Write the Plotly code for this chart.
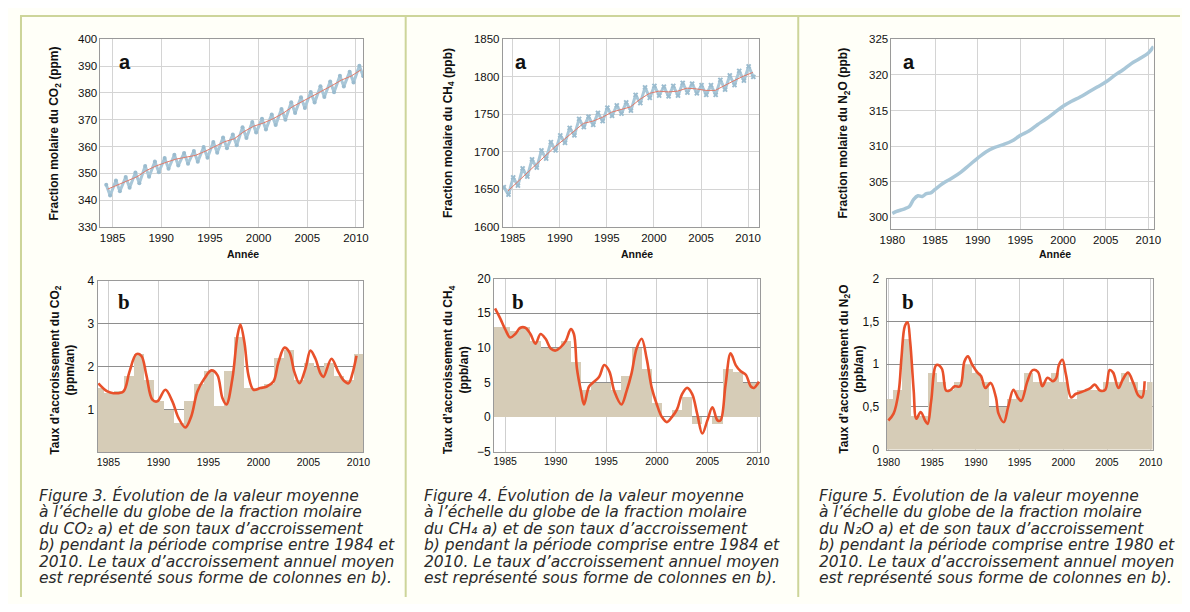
import plotly.graph_objects as go

# The page body has an 8px default margin: the figure is offset by OFF px.
OFF = 8
W, H = 1190 - OFF, 612 - 2 * OFF

# ---------------- DATA ----------------
co2_years = [1984, 1985, 1986, 1987, 1988, 1989, 1990, 1991, 1992, 1993, 1994, 1995, 1996, 1997,
             1998, 1999, 2000, 2001, 2002, 2003, 2004, 2005, 2006, 2007, 2008, 2009, 2010]
co2_trend = [344.1, 345.7, 347.0, 348.7, 351.1, 352.8, 354.1, 355.3, 356.0, 356.7, 358.2, 360.1, 361.8, 362.9,
             365.6, 367.6, 368.8, 370.4, 372.4, 374.9, 376.8, 378.8, 380.9, 382.7, 384.8, 386.3, 388.6]
co2_peak = [345.7, 347.3, 348.6, 350.3, 352.7, 354.4, 355.7, 356.9, 357.6, 358.3, 359.8, 361.7, 363.4, 364.5,
            367.2, 369.2, 370.4, 372.0, 374.0, 376.5, 378.4, 380.4, 382.5, 384.3, 386.4, 387.9, 390.2]
co2_trough = [341.7, 343.3, 344.6, 346.3, 348.7, 350.4, 351.7, 352.9, 353.6, 354.3, 355.8, 357.7, 359.4, 360.5,
              363.2, 365.2, 366.4, 368.0, 370.0, 372.5, 374.4, 376.4, 378.5, 380.3, 382.4, 383.9, 386.2]

ch4_years = [1984, 1985, 1986, 1987, 1988, 1989, 1990, 1991, 1992, 1993, 1994, 1995, 1996, 1997,
             1998, 1999, 2000, 2001, 2002, 2003, 2004, 2005, 2006, 2007, 2008, 2009, 2010]
ch4_trend = [1648, 1660, 1672, 1684, 1696, 1707, 1717, 1727, 1738, 1741, 1746, 1753, 1756, 1760,
             1770, 1778, 1781, 1780, 1781, 1785, 1784, 1782, 1782, 1789, 1795, 1801, 1806]
ch4_peak = [1653, 1666, 1678, 1690, 1702, 1713, 1722, 1732, 1744, 1747, 1752, 1759, 1762, 1766,
            1776, 1786, 1788, 1787, 1788, 1792, 1791, 1789, 1789, 1796, 1802, 1808, 1814]
ch4_trough = [1643, 1655, 1667, 1679, 1691, 1702, 1712, 1722, 1733, 1736, 1741, 1748, 1751, 1755,
              1765, 1772, 1775, 1774, 1775, 1779, 1778, 1776, 1776, 1783, 1789, 1795, 1800]

n2o_x = [1980.0, 1980.5, 1981.0, 1981.5, 1982.0, 1982.5, 1983.0, 1983.5, 1984.0, 1984.5, 1985.0, 1986.0,
         1987.0, 1988.0, 1989.0, 1990.0, 1991.0, 1992.0, 1993.0, 1994.0, 1995.0, 1996.0, 1997.0, 1998.0,
         1999.0, 2000.0, 2001.0, 2002.0, 2003.0, 2004.0, 2005.0, 2006.0, 2007.0, 2008.0, 2009.0, 2010.0, 2010.6]
n2o_y = [300.5, 300.8, 301.0, 301.2, 301.5, 302.5, 303.0, 302.9, 303.3, 303.4, 303.9, 304.8,
         305.5, 306.3, 307.3, 308.3, 309.2, 309.8, 310.2, 310.7, 311.5, 312.1, 313.0, 313.8,
         314.7, 315.6, 316.3, 316.9, 317.6, 318.3, 319.0, 319.9, 320.7, 321.6, 322.3, 323.1, 324.0]

# growth rates (curves)
co2_rate_x = [1984.0, 1984.9, 1985.5, 1986.5, 1987.1, 1987.8, 1988.3, 1988.8, 1989.4, 1989.9, 1990.7, 1991.4,
              1992.0, 1992.7, 1993.3, 1993.9, 1994.6, 1995.3, 1995.9, 1996.4, 1996.8, 1997.4, 1997.9, 1998.2,
              1998.6, 1999.0, 1999.5, 2000.2, 2000.8, 2001.5, 2002.0, 2002.6, 2003.1, 2003.6, 2004.1, 2004.7,
              2005.2, 2005.7, 2006.2, 2006.5, 2007.3, 2008.0, 2008.5, 2009.0, 2009.4, 2009.8]
co2_rate_y = [1.61, 1.42, 1.38, 1.42, 1.87, 2.29, 2.25, 1.80, 1.23, 1.19, 1.46, 1.19,
              0.81, 0.58, 0.85, 1.42, 1.72, 1.91, 1.80, 1.27, 1.12, 1.72, 2.71, 2.98,
              2.56, 1.80, 1.46, 1.50, 1.53, 1.65, 2.10, 2.44, 2.33, 1.87, 1.61, 1.95,
              2.37, 2.18, 1.84, 1.76, 2.18, 1.87, 1.68, 1.61, 1.84, 2.25]
co2_bar = [1.5, 1.4, 1.45, 1.8, 2.3, 1.7, 1.2, 1.0, 0.7, 1.2, 1.6, 1.9, 1.1, 1.9,
           2.7, 1.5, 1.5, 1.6, 2.2, 2.4, 1.7, 2.1, 2.0, 2.1, 1.8, 1.7, 2.3]

ch4_rate_x = [1984.0, 1984.5, 1985.0, 1985.5, 1986.0, 1986.5, 1987.0, 1987.5, 1988.0, 1988.5, 1989.0, 1989.5,
              1990.0, 1990.5, 1991.0, 1991.5, 1991.8, 1992.1, 1992.5, 1992.8, 1993.3, 1993.8, 1994.3, 1994.8,
              1995.3, 1995.8, 1996.5, 1997.0, 1997.5, 1998.0, 1998.5, 1999.0, 1999.5, 2000.0, 2000.5, 2001.0,
              2001.5, 2002.0, 2002.5, 2003.0, 2003.5, 2004.0, 2004.5, 2005.0, 2005.5, 2006.0, 2006.3, 2006.8,
              2007.3, 2007.8, 2008.3, 2008.8, 2009.3, 2009.6, 2010.1]
ch4_rate_y = [15.7, 14.3, 12.7, 11.5, 12.0, 12.9, 12.9, 12.0, 10.6, 12.0, 11.3, 9.9,
              9.6, 10.1, 11.0, 12.7, 12.0, 7.0, 3.7, 1.8, 4.4, 5.1, 5.8, 7.5,
              6.6, 3.7, 1.8, 3.7, 6.3, 9.9, 11.3, 8.4, 4.2, 1.8, 0.0, -0.75,
              0.0, 1.1, 3.3, 4.2, 3.3, 0.4, -2.4, -0.5, 1.4, -0.5, -0.5, 4.7,
              9.2, 7.5, 6.6, 6.1, 4.4, 4.2, 5.1]
ch4_bar = [13.0, 13.0, 12.5, 13.0, 11.0, 10.0, 10.0, 11.0, 8.0, 4.0, 5.0, 5.0, 4.0, 6.0,
           10.0, 7.0, 2.0, 0.0, 1.0, 3.0, -1.0, 0.0, -1.0, 7.0, 6.5, 5.0, 5.0]

n2o_rate_x = [1980.0, 1980.6, 1981.2, 1981.5, 1981.9, 1982.2, 1982.5, 1982.9, 1983.2, 1983.7, 1984.2, 1984.5,
              1984.9, 1985.5, 1986.1, 1986.6, 1987.0, 1987.6, 1988.2, 1988.7, 1989.1, 1989.6, 1990.2, 1990.6,
              1991.1, 1991.7, 1992.3, 1992.6, 1993.2, 1993.7, 1994.3, 1994.8, 1995.2, 1995.9, 1996.5, 1997.1,
              1997.6, 1998.2, 1998.8, 1999.2, 1999.5, 1999.9, 2000.3, 2000.9, 2001.4, 2002.0, 2002.5, 2003.1,
              2003.6, 2004.2, 2004.8, 2005.3, 2005.7, 2006.3, 2006.8, 2007.4, 2008.0, 2008.6, 2009.0, 2009.3]
n2o_rate_y = [0.34, 0.42, 0.69, 1.07, 1.45, 1.49, 1.26, 0.69, 0.36, 0.44, 0.34, 0.30,
              0.57, 0.99, 0.95, 0.69, 0.69, 0.74, 0.74, 1.03, 1.09, 0.99, 0.90, 0.86,
              0.72, 0.78, 0.61, 0.42, 0.32, 0.50, 0.70, 0.61, 0.57, 0.80, 0.93, 0.91,
              0.74, 0.84, 0.80, 0.84, 0.99, 1.05, 0.88, 0.61, 0.65, 0.67, 0.69, 0.72,
              0.76, 0.69, 0.70, 0.93, 0.90, 0.72, 0.82, 0.90, 0.78, 0.63, 0.61, 0.80]
n2o_years = [1980, 1981, 1982, 1983, 1984, 1985, 1986, 1987, 1988, 1989, 1990, 1991, 1992, 1993, 1994, 1995,
             1996, 1997, 1998, 1999, 2000, 2001, 2002, 2003, 2004, 2005, 2006, 2007, 2008, 2009, 2010]
n2o_bar = [0.6, 0.7, 1.3, 0.4, 0.4, 0.9, 0.8, 0.7, 0.8, 1.0, 0.9, 0.8, 0.5, 0.5, 0.6, 0.7,
           0.9, 0.8, 0.8, 0.9, 0.8, 0.6, 0.7, 0.7, 0.7, 0.8, 0.8, 0.9, 0.8, 0.7, 0.8]

ticks_5y_85 = [1985, 1990, 1995, 2000, 2005, 2010]
ticks_5y_80 = [1980, 1985, 1990, 1995, 2000, 2005, 2010]

gases = ["CO<sub>2</sub>", "CH<sub>4</sub>", "N<sub>2</sub>O"]
gases_caption = ["CO₂", "CH₄", "N₂O"]
fig_numbers = ["Figure 3", "Figure 4", "Figure 5"]
start_years = ["1984", "1984", "1980"]
units_a = ["ppm", "ppb", "ppb"]
units_b = ["ppm/an", "ppb/an", "ppb/an"]

# ---------------- helpers ----------------
def fx(p):
    return (p - OFF) / W

def fy(p):
    return 1 - (p - OFF) / H

def seasonal(years, peaks, troughs, dp, dt):
    xs, ys = [], []
    for yr, p, t in zip(years, peaks, troughs):
        xs += [yr + dp, yr + dt]
        ys += [p, t]
    return xs, ys

BLUE = "#a9c7d8"
RED_T = "#e07a6a"
ORANGE = "#e8512b"
TAN = "#d6ccb7"
FONT = "Liberation Sans"

fig = go.Figure()

# top panels
cx, cy = seasonal(co2_years, co2_peak, co2_trough, 0.35, 0.75)
fig.add_trace(go.Scatter(x=cx, y=cy, mode="lines+markers", line=dict(color=BLUE, width=3),
                         marker=dict(size=4, color="#9bbccf"), xaxis="x", yaxis="y", showlegend=False))
fig.add_trace(go.Scatter(x=[y + 0.5 for y in co2_years], y=co2_trend, mode="lines",
                         line=dict(color=RED_T, width=1), xaxis="x", yaxis="y", showlegend=False))

hx, hy = seasonal(ch4_years, ch4_peak, ch4_trough, 0.05, 0.55)
fig.add_trace(go.Scatter(x=hx, y=hy, mode="lines+markers", line=dict(color=BLUE, width=3),
                         marker=dict(size=4, color="#9bbccf", symbol="x-thin", line=dict(width=2, color="#9bbccf")),
                         xaxis="x2", yaxis="y2", showlegend=False))
fig.add_trace(go.Scatter(x=[y + 0.5 for y in ch4_years], y=ch4_trend, mode="lines",
                         line=dict(color=RED_T, width=1), xaxis="x2", yaxis="y2", showlegend=False))

fig.add_trace(go.Scatter(x=n2o_x, y=n2o_y, mode="lines", line=dict(color=BLUE, width=3.5, shape="spline"),
                         xaxis="x3", yaxis="y3", showlegend=False))

# bottom panels
fig.add_trace(go.Bar(x=co2_years, y=co2_bar, width=1, marker=dict(color=TAN, line=dict(width=0)),
                     xaxis="x4", yaxis="y4", showlegend=False))
fig.add_trace(go.Scatter(x=co2_rate_x, y=co2_rate_y, mode="lines", line=dict(color=ORANGE, width=2.6, shape="spline"),
                         xaxis="x4", yaxis="y4", showlegend=False))
fig.add_trace(go.Bar(x=ch4_years, y=ch4_bar, width=1, marker=dict(color=TAN, line=dict(width=0)),
                     xaxis="x5", yaxis="y5", showlegend=False))
fig.add_trace(go.Scatter(x=ch4_rate_x, y=ch4_rate_y, mode="lines", line=dict(color=ORANGE, width=2.6, shape="spline"),
                         xaxis="x5", yaxis="y5", showlegend=False))
fig.add_trace(go.Bar(x=n2o_years, y=n2o_bar, width=1, marker=dict(color=TAN, line=dict(width=0)),
                     xaxis="x6", yaxis="y6", showlegend=False))
fig.add_trace(go.Scatter(x=n2o_rate_x, y=n2o_rate_y, mode="lines", line=dict(color=ORANGE, width=2.6, shape="spline"),
                         xaxis="x6", yaxis="y6", showlegend=False))

# axes
def xax(dom, rng, ticks, anchor, size, grid, standoff=0):
    return dict(domain=[fx(dom[0]), fx(dom[1])], range=rng, tickvals=ticks, anchor=anchor,
                showgrid=True, gridcolor=grid, gridwidth=1, showline=True, linecolor="#9a9a9a",
                mirror=True, ticks="", zeroline=False, ticklabelstandoff=standoff,
                tickfont=dict(family=FONT, size=size, color="#111111"))

def yax(dom, rng, ticks, anchor, size, grid, text=None, standoff=0):
    d = dict(domain=[fy(dom[1]), fy(dom[0])], range=rng, tickvals=ticks, anchor=anchor,
             showgrid=True, gridcolor=grid, gridwidth=1, showline=True, linecolor="#9a9a9a",
             mirror=True, ticks="", zeroline=False, ticklabelstandoff=standoff,
             tickfont=dict(family=FONT, size=size, color="#111111"))
    if text is not None:
        d["ticktext"] = text
    return d

layout = dict(
    width=W, height=H, margin=dict(l=0, r=0, t=0, b=0),
    paper_bgcolor="#fffff8", plot_bgcolor="#ffffff", bargap=0,
    xaxis=xax((90, 358), [1983.76, 2010.77], ticks_5y_85, "y", 11.5, "#d4d4d4"),
    yaxis=yax((33, 225), [330, 400], [330, 340, 350, 360, 370, 380, 390, 400], "x", 11.5, "#d4d4d4"),
    xaxis2=xax((500, 761), [1983.95, 2011.15], ticks_5y_85, "y2", 11.5, "#d4d4d4"),
    yaxis2=yax((33, 225), [1600, 1850], [1600, 1650, 1700, 1750, 1800, 1850], "x2", 11.5, "#d4d4d4"),
    xaxis3=xax((896, 1163), [1979.9, 2010.6], ticks_5y_80, "y3", 11.5, "#d4d4d4"),
    yaxis3=yax((33, 227), [298.35, 325], [300, 305, 310, 315, 320, 325], "x3", 11.5, "#d4d4d4"),
    xaxis4=xax((87, 358), [1983.92, 2010.5], ticks_5y_85, "y4", 10.5, "#cfcfcf"),
    yaxis4=yax((280, 456), [0, 4], [1, 2, 3, 4], "x4", 12, "#8e8e8e"),
    xaxis5=xax((491, 762), [1983.9, 2010.2], ticks_5y_85, "y5", 10.5, "#cfcfcf"),
    yaxis5=yax((278, 455), [-5, 20], [-5, 0, 5, 10, 15, 20], "x5", 12, "#8e8e8e"),
    xaxis6=xax((891, 1162), [1979.8, 2010.2], ticks_5y_80, "y6", 10.5, "#cfcfcf", standoff=3),
    yaxis6=yax((278, 453), [0, 2], [0, 0.5, 1, 1.5, 2], "x6", 12, "#8e8e8e",
               ["0", "0,5", "1", "1,5", "2"], standoff=4),
)
fig.update_layout(**layout)

ann = []

def text(px, py, s, size, bold=False, italic=False, family=FONT, angle=0, xanchor="center", color="#111111"):
    t = s
    if bold:
        t = "<b>" + t + "</b>"
    if italic:
        t = "<i>" + t + "</i>"
    ann.append(dict(x=fx(px), y=fy(py), xref="paper", yref="paper", text=t, showarrow=False,
                    textangle=angle, xanchor=xanchor, yanchor="middle",
                    font=dict(family=family, size=size, color=color)))

title_x = [44, 445, 848]
annee_x = [235, 637, 1063]
a_x = [115, 518, 914]
b_x = [114, 515, 913]
cap_x = [25, 418, 820]

for i in range(3):
    g = gases[i]
    text(title_x[i], 129, "Fraction molaire du " + g + " (" + units_a[i] + ")", 12, bold=True, angle=-90)
    text(title_x[i] + 8, 371, "Taux d’accroissement du " + g + "<br>(" + units_b[i] + ")", 12, bold=True, angle=-90)
    text(annee_x[i], 253, "Année", 10.5, bold=True)
    text(a_x[i], 56, "a", 20, bold=True)
    text(b_x[i], 302, "b", 21, bold=True, family="Liberation Serif")
    lines = [
        fig_numbers[i] + ". Évolution de la valeur moyenne",
        "à l’échelle du globe de la fraction molaire",
        "du " + gases_caption[i] + " a) et de son taux d’accroissement",
        "b) pendant la période comprise entre " + start_years[i] + " et",
        "2010. Le taux d’accroissement annuel moyen",
        "est représenté sous forme de colonnes en b).",
    ]
    for k, ln in enumerate(lines):
        text(cap_x[i], 500 + k * 17, ln, 15.5, italic=True, xanchor="left", color="#2b2b2b",
             family="DejaVu Sans")

fig.update_layout(annotations=ann)

# frame
FR = "#cdd59a"
shapes = [
    dict(type="line", xref="paper", yref="paper", x0=fx(8), x1=fx(1190), y0=fy(9), y1=fy(9), line=dict(color=FR, width=2)),
    dict(type="line", xref="paper", yref="paper", x0=fx(9), x1=fx(9), y0=fy(9), y1=fy(604), line=dict(color=FR, width=2)),
    dict(type="line", xref="paper", yref="paper", x0=fx(401), x1=fx(401), y0=fy(9), y1=fy(604), line=dict(color=FR, width=2)),
    dict(type="line", xref="paper", yref="paper", x0=fx(801), x1=fx(801), y0=fy(9), y1=fy(604), line=dict(color=FR, width=2)),
]
fig.update_layout(shapes=shapes)

fig.write_html("out.html")
